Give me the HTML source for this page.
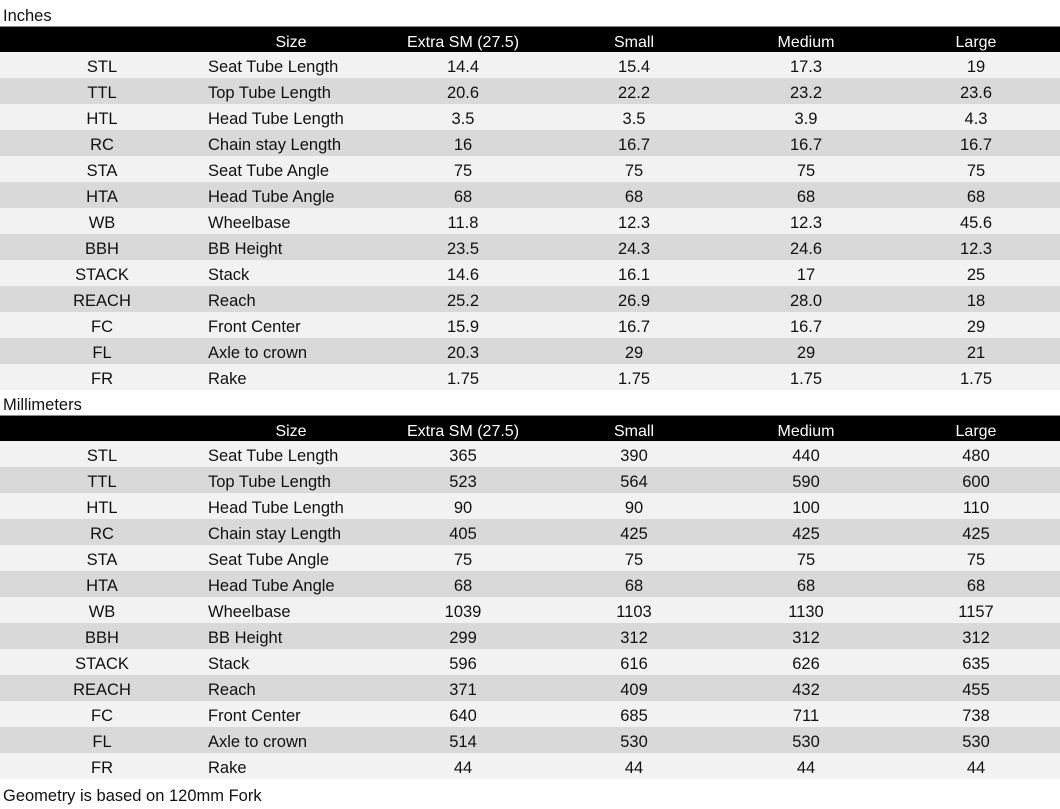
<!DOCTYPE html>
<html><head><meta charset="utf-8"><style>
body{margin:0;width:1060px;height:809px;background:#fff;font-family:"Liberation Sans",sans-serif;font-size:16.5px;color:#111;position:relative;overflow:hidden}
.lbl{position:absolute;left:3px;font-size:16.5px}
.hdr{position:absolute;left:0;width:1060px;height:25px;background:#000;color:#fff;font-size:16px;border-top:1px solid #888}
.row{position:absolute;left:0;width:1060px;height:26px}
.l{background:#f2f2f2}.d{background:#d9d9d9}
.c{position:absolute;top:2px;line-height:26px;text-align:center;white-space:nowrap}
.hdr .c{line-height:27px;top:2px}
.c0{left:0;width:204px}.c1{left:208px;width:172px;text-align:left}.cs{left:204px;width:174px}
.c2{left:378px;width:170px}.c3{left:549px;width:170px}.c4{left:721px;width:170px}.c5{left:891px;width:170px}
</style></head><body>
<div class="lbl" style="top:7px">Inches</div>
<div class="hdr" style="top:26px"><div class="c cs">Size</div><div class="c c2">Extra SM (27.5)</div><div class="c c3">Small</div><div class="c c4">Medium</div><div class="c c5">Large</div></div>
<div class="row l" style="top:52px"><div class="c c0">STL</div><div class="c c1">Seat Tube Length</div><div class="c c2">14.4</div><div class="c c3">15.4</div><div class="c c4">17.3</div><div class="c c5">19</div></div>
<div class="row d" style="top:78px"><div class="c c0">TTL</div><div class="c c1">Top Tube Length</div><div class="c c2">20.6</div><div class="c c3">22.2</div><div class="c c4">23.2</div><div class="c c5">23.6</div></div>
<div class="row l" style="top:104px"><div class="c c0">HTL</div><div class="c c1">Head Tube Length</div><div class="c c2">3.5</div><div class="c c3">3.5</div><div class="c c4">3.9</div><div class="c c5">4.3</div></div>
<div class="row d" style="top:130px"><div class="c c0">RC</div><div class="c c1">Chain stay Length</div><div class="c c2">16</div><div class="c c3">16.7</div><div class="c c4">16.7</div><div class="c c5">16.7</div></div>
<div class="row l" style="top:156px"><div class="c c0">STA</div><div class="c c1">Seat Tube Angle</div><div class="c c2">75</div><div class="c c3">75</div><div class="c c4">75</div><div class="c c5">75</div></div>
<div class="row d" style="top:182px"><div class="c c0">HTA</div><div class="c c1">Head Tube Angle</div><div class="c c2">68</div><div class="c c3">68</div><div class="c c4">68</div><div class="c c5">68</div></div>
<div class="row l" style="top:208px"><div class="c c0">WB</div><div class="c c1">Wheelbase</div><div class="c c2">11.8</div><div class="c c3">12.3</div><div class="c c4">12.3</div><div class="c c5">45.6</div></div>
<div class="row d" style="top:234px"><div class="c c0">BBH</div><div class="c c1">BB Height</div><div class="c c2">23.5</div><div class="c c3">24.3</div><div class="c c4">24.6</div><div class="c c5">12.3</div></div>
<div class="row l" style="top:260px"><div class="c c0">STACK</div><div class="c c1">Stack</div><div class="c c2">14.6</div><div class="c c3">16.1</div><div class="c c4">17</div><div class="c c5">25</div></div>
<div class="row d" style="top:286px"><div class="c c0">REACH</div><div class="c c1">Reach</div><div class="c c2">25.2</div><div class="c c3">26.9</div><div class="c c4">28.0</div><div class="c c5">18</div></div>
<div class="row l" style="top:312px"><div class="c c0">FC</div><div class="c c1">Front Center</div><div class="c c2">15.9</div><div class="c c3">16.7</div><div class="c c4">16.7</div><div class="c c5">29</div></div>
<div class="row d" style="top:338px"><div class="c c0">FL</div><div class="c c1">Axle to crown</div><div class="c c2">20.3</div><div class="c c3">29</div><div class="c c4">29</div><div class="c c5">21</div></div>
<div class="row l" style="top:364px"><div class="c c0">FR</div><div class="c c1">Rake</div><div class="c c2">1.75</div><div class="c c3">1.75</div><div class="c c4">1.75</div><div class="c c5">1.75</div></div>
<div class="lbl" style="top:396px">Millimeters</div>
<div class="hdr" style="top:415px"><div class="c cs">Size</div><div class="c c2">Extra SM (27.5)</div><div class="c c3">Small</div><div class="c c4">Medium</div><div class="c c5">Large</div></div>
<div class="row l" style="top:441px"><div class="c c0">STL</div><div class="c c1">Seat Tube Length</div><div class="c c2">365</div><div class="c c3">390</div><div class="c c4">440</div><div class="c c5">480</div></div>
<div class="row d" style="top:467px"><div class="c c0">TTL</div><div class="c c1">Top Tube Length</div><div class="c c2">523</div><div class="c c3">564</div><div class="c c4">590</div><div class="c c5">600</div></div>
<div class="row l" style="top:493px"><div class="c c0">HTL</div><div class="c c1">Head Tube Length</div><div class="c c2">90</div><div class="c c3">90</div><div class="c c4">100</div><div class="c c5">110</div></div>
<div class="row d" style="top:519px"><div class="c c0">RC</div><div class="c c1">Chain stay Length</div><div class="c c2">405</div><div class="c c3">425</div><div class="c c4">425</div><div class="c c5">425</div></div>
<div class="row l" style="top:545px"><div class="c c0">STA</div><div class="c c1">Seat Tube Angle</div><div class="c c2">75</div><div class="c c3">75</div><div class="c c4">75</div><div class="c c5">75</div></div>
<div class="row d" style="top:571px"><div class="c c0">HTA</div><div class="c c1">Head Tube Angle</div><div class="c c2">68</div><div class="c c3">68</div><div class="c c4">68</div><div class="c c5">68</div></div>
<div class="row l" style="top:597px"><div class="c c0">WB</div><div class="c c1">Wheelbase</div><div class="c c2">1039</div><div class="c c3">1103</div><div class="c c4">1130</div><div class="c c5">1157</div></div>
<div class="row d" style="top:623px"><div class="c c0">BBH</div><div class="c c1">BB Height</div><div class="c c2">299</div><div class="c c3">312</div><div class="c c4">312</div><div class="c c5">312</div></div>
<div class="row l" style="top:649px"><div class="c c0">STACK</div><div class="c c1">Stack</div><div class="c c2">596</div><div class="c c3">616</div><div class="c c4">626</div><div class="c c5">635</div></div>
<div class="row d" style="top:675px"><div class="c c0">REACH</div><div class="c c1">Reach</div><div class="c c2">371</div><div class="c c3">409</div><div class="c c4">432</div><div class="c c5">455</div></div>
<div class="row l" style="top:701px"><div class="c c0">FC</div><div class="c c1">Front Center</div><div class="c c2">640</div><div class="c c3">685</div><div class="c c4">711</div><div class="c c5">738</div></div>
<div class="row d" style="top:727px"><div class="c c0">FL</div><div class="c c1">Axle to crown</div><div class="c c2">514</div><div class="c c3">530</div><div class="c c4">530</div><div class="c c5">530</div></div>
<div class="row l" style="top:753px"><div class="c c0">FR</div><div class="c c1">Rake</div><div class="c c2">44</div><div class="c c3">44</div><div class="c c4">44</div><div class="c c5">44</div></div>
<div class="lbl" style="top:787px">Geometry is based on 120mm Fork</div>
</body></html>
